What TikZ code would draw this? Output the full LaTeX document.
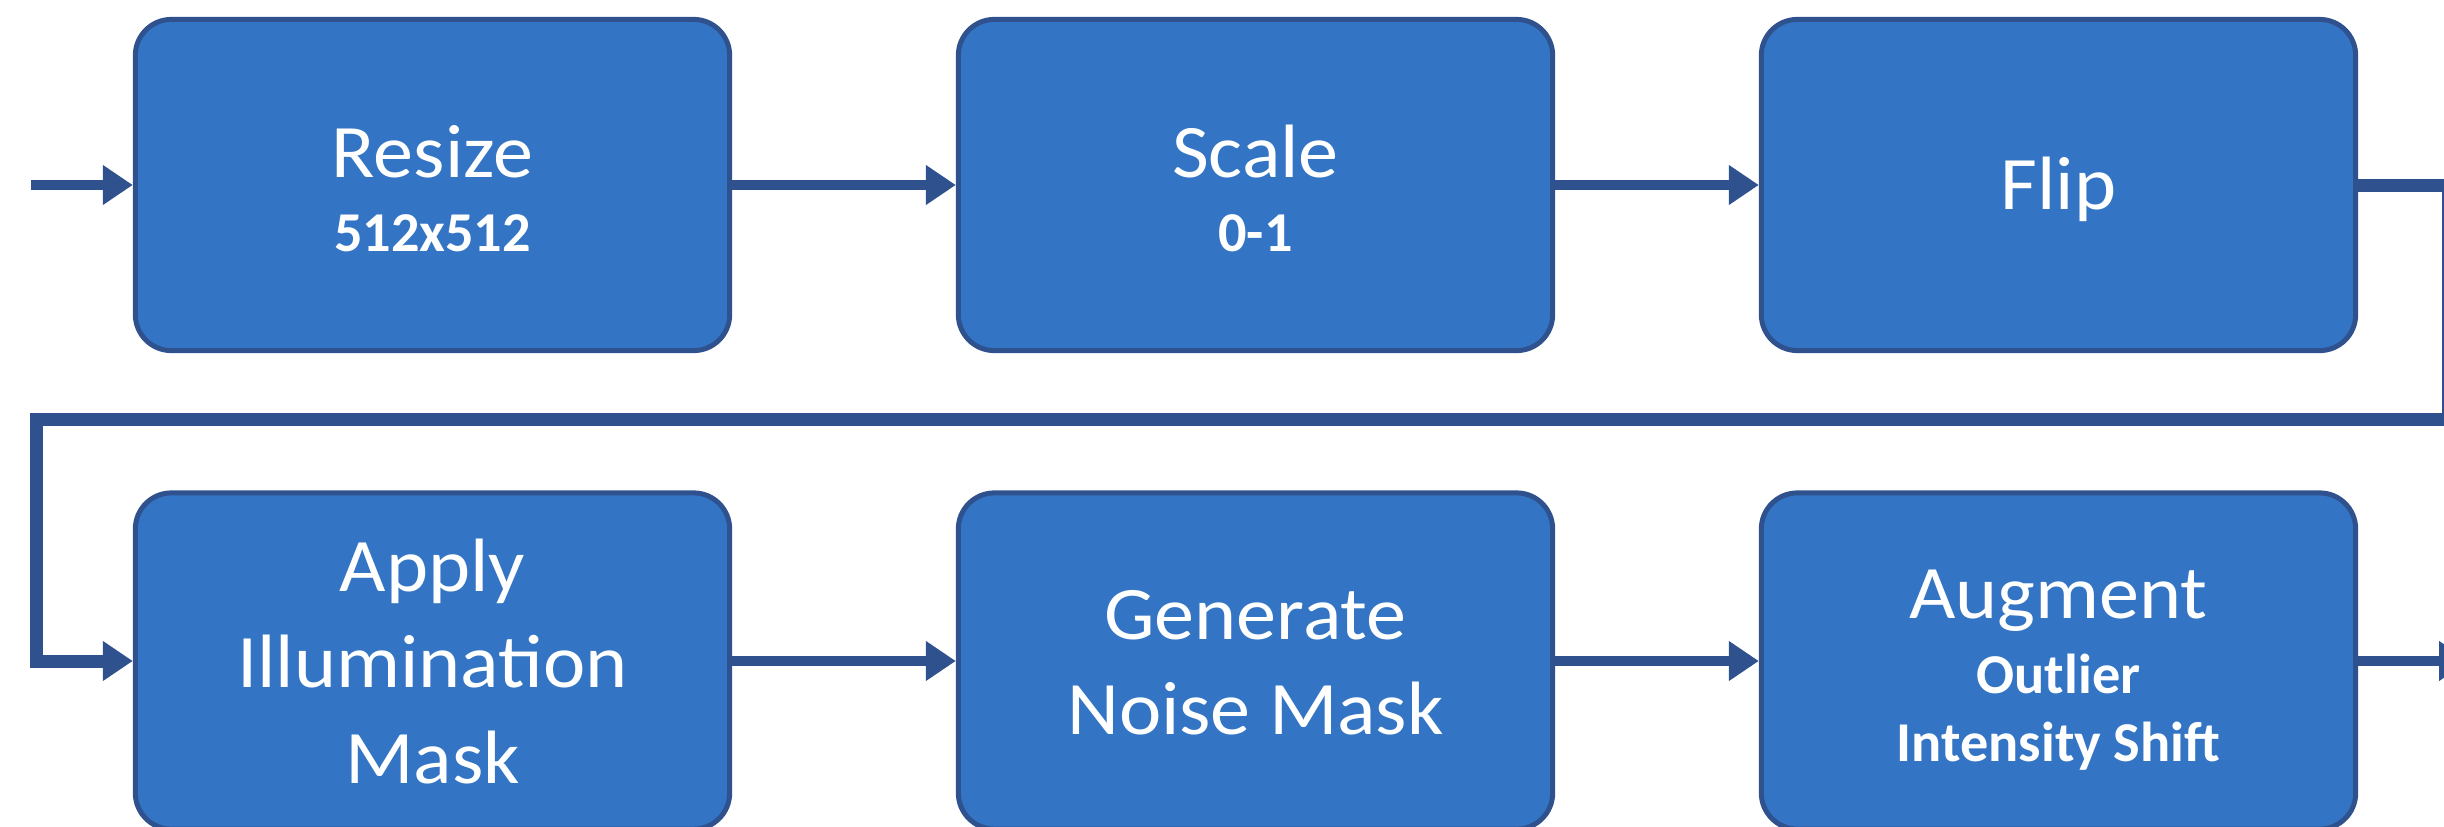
\documentclass[tikz,border=0pt]{standalone}
\usepackage{fontspec}
\setmainfont{Carlito}
\newfontfamily\bigfont{Carlito}[FakeStretch=1.06]
\usetikzlibrary{arrows.meta}
\definecolor{boxfill}{RGB}{51,117,196}
\definecolor{boxline}{RGB}{47,82,143}
\newcommand{\topstr}[1]{\rule{0pt}{#1}}
\newcommand{\botstr}[1]{\rule[-#1]{0pt}{0pt}}
\newcommand{\smalltxt}{\fontsize{16}{19.6}\selectfont\normalfont\bfseries}
\begin{document}
\begin{tikzpicture}[x=0.01cm,y=-0.01cm,
  stepbox/.style={draw=boxline, fill=boxfill, line width=0.05cm, rounded corners=0.36cm,
    minimum width=5.94cm, minimum height=3.31cm, inner sep=0pt, align=center,
    text=white, font=\bigfont\fontsize{21.5}{27.2}\selectfont},
  lowbox/.style={stepbox, minimum height=3.36cm},
  flow/.style={draw=boxline, line width=0.1cm, -{Triangle[length=0.3cm,width=0.38cm]}},
  wrapflow/.style={flow, line width=0.13cm}]
\useasboundingbox (0,0) rectangle (2444,827);
\clip (0,0) rectangle (2444,827);
% row 1
\node[stepbox] (resize) at (432.5,185) {\topstr{22.2pt}Resize\\[-6.15pt]{\smalltxt 512x512}\botstr{5.7pt}};
\node[stepbox] (scale) at (1255.5,185) {\topstr{22.2pt}Scale\\[-6.15pt]{\smalltxt 0-1}\botstr{5.7pt}};
\node[stepbox] (flip) at (2058.5,185) {\topstr{19.35pt}Flip\botstr{5.7pt}};
% row 2
\node[lowbox] (apply) at (432.5,661) {\topstr{20.77pt}Apply\\Illumination\\Mask\botstr{5.7pt}};
\node[lowbox] (noise) at (1255.5,661) {\topstr{20.48pt}Generate\\Noise Mask\botstr{5.7pt}};
\node[lowbox] (augment) at (2058.5,661) {\topstr{22.2pt}Augment\\[-5.9pt]{\smalltxt Outlier}\\[-7.6pt]{\smalltxt Intensity Shift}\botstr{5.7pt}};
% connectors
\coordinate (start) at (31,185);
\coordinate (rc) at (2448.5,419);
\coordinate (lc) at (36.5,419);
\coordinate (finish) at (2469,661);
\draw[flow] (start) -- (resize.west);
\draw[flow] (resize.east) -- (scale.west);
\draw[flow] (scale.east) -- (flip.west);
\draw[wrapflow] (flip.east) -| (rc) -- (lc) |- (apply.west);
\draw[flow] (apply.east) -- (noise.west);
\draw[flow] (noise.east) -- (augment.west);
\draw[flow] (augment.east) -- (finish);
\end{tikzpicture}
\end{document}
